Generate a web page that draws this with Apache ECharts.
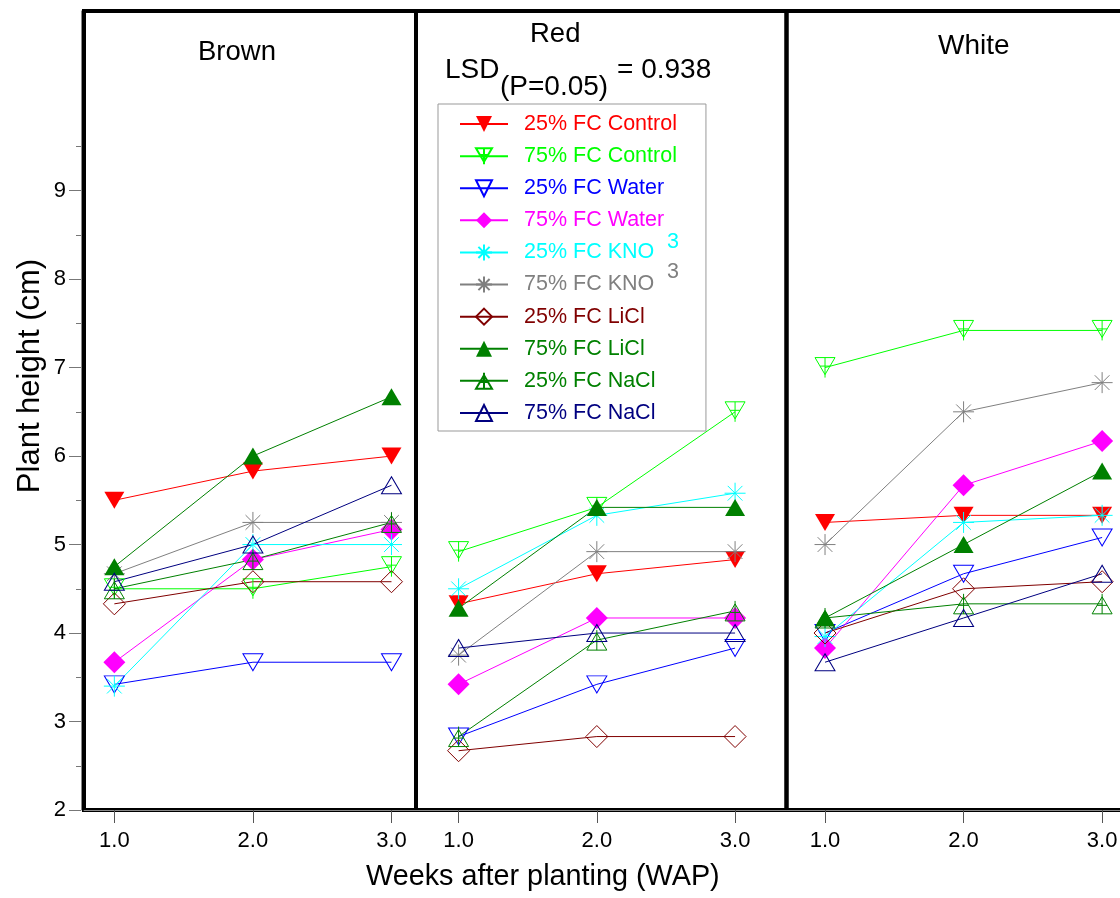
<!DOCTYPE html>
<html>
<head>
<meta charset="utf-8">
<script src="https://cdn.jsdelivr.net/npm/echarts@6/dist/echarts.min.js"></script>
<style>
html,body{margin:0;padding:0;background:#fff;}
#chart{width:1120px;height:898px;}
</style>
</head>
<body>
<div id="chart"></div>
<script>
// ---- data ----
const weeks = [1, 2, 3];
const weekLabels = ['1.0', '2.0', '3.0'];
const yTickValues = [2, 3, 4, 5, 6, 7, 8, 9];
const yMinorTickValues = [2.5, 3.5, 4.5, 5.5, 6.5, 7.5, 8.5, 9.5];
const panels = ['Brown', 'Red', 'White'];
const treatments = ['25% FC Control', '75% FC Control', '25% FC Water', '75% FC Water',
  '25% FC KNO3', '75% FC KNO3', '25% FC LiCl', '75% FC LiCl', '25% FC NaCl', '75% FC NaCl'];
const brown = [
  [5.50, 5.83, 6.00],
  [4.50, 4.50, 4.75],
  [3.42, 3.67, 3.67],
  [3.67, 4.83, 5.17],
  [3.40, 5.00, 5.00],
  [4.67, 5.25, 5.25],
  [4.33, 4.58, 4.58],
  [4.75, 6.00, 6.67],
  [4.50, 4.83, 5.25],
  [4.58, 5.00, 5.67]
];
const red = [
  [4.33, 4.67, 4.83],
  [4.92, 5.42, 6.50],
  [2.83, 3.42, 3.83],
  [3.42, 4.17, 4.17],
  [4.50, 5.33, 5.58],
  [3.75, 4.92, 4.92],
  [2.67, 2.83, 2.83],
  [4.28, 5.42, 5.42],
  [2.83, 3.92, 4.25],
  [3.83, 4.00, 4.00]
];
const white = [
  [5.25, 5.33, 5.33],
  [7.00, 7.42, 7.42],
  [4.00, 4.67, 5.08],
  [3.83, 5.67, 6.17],
  [3.96, 5.25, 5.33],
  [5.00, 6.50, 6.83],
  [4.00, 4.50, 4.58],
  [4.17, 5.00, 5.83],
  [4.17, 4.33, 4.33],
  [3.67, 4.17, 4.67]
];
const panelData = [brown, red, white];

// ---- styles ----
const colors = ['#ff0000', '#00ff00', '#0000ff', '#ff00ff', '#00ffff', '#808080', '#800000', '#008000', '#008000', '#000080'];
const textColors = ['#ff0000', '#00ff00', '#0000ff', '#ff00ff', '#00ffff', '#808080', '#800000', '#008000', '#008000', '#000080'];
const P_DOWN = 'path://M0,0L20,0L10,17Z';
const P_DOWN_X = 'path://M0,0L20,0L10,17Z M10,0L10,20 M5,8.5L15,8.5';
const P_UP = 'path://M10,0L20,17L0,17Z';
const P_UP_X = 'path://M10,3L20,20L0,20Z M10,0L10,20 M5,11.5L15,11.5';
const P_STAR = 'path://M0,10L20,10M10,0L10,20M3,3L17,17M17,3L3,17';
const symbols = [
  {s: P_DOWN, size: [20, 17], fill: true},
  {s: P_DOWN_X, size: [20, 20], fill: false},
  {s: P_DOWN, size: [20, 17], fill: false},
  {s: 'diamond', size: [22, 22], fill: true},
  {s: P_STAR, size: [21, 21], fill: false},
  {s: P_STAR, size: [21, 21], fill: false},
  {s: 'diamond', size: [22, 22], fill: false},
  {s: P_UP, size: [20, 17], fill: true},
  {s: P_UP_X, size: [20, 20], fill: false},
  {s: P_UP, size: [20, 17], fill: false}
];

const FONT = 'Liberation Sans, Arial, sans-serif';
const Y_MIN = 2, Y_MAX = 11.03;
const gridDefs = [
  {left: 84, width: 332, min: 0.781, max: 3.177},
  {left: 416, width: 370.5, min: 0.692, max: 3.372},
  {left: 786.5, width: 340, min: 0.722, max: 3.176}
];

const grids = gridDefs.map(g => ({
  left: g.left, width: g.width, top: 11, height: 799,
  outerBoundsMode: 'none', containLabel: false,
  show: true, borderColor: '#000', borderWidth: 4, backgroundColor: 'transparent'
}));

const xAxes = gridDefs.map((g, i) => ({
  type: 'value', gridIndex: i, min: g.min, max: g.max,
  axisLine: {show: true, onZero: false, lineStyle: {color: '#888', width: 1}},
  axisTick: {show: true, customValues: weeks, length: 13, lineStyle: {color: '#555'}},
  axisLabel: {show: true, customValues: weeks, margin: 20, fontSize: 22, fontFamily: FONT, color: '#000',
    formatter: v => weekLabels[weeks.indexOf(v)]},
  splitLine: {show: false}
}));

const yAxes = [];
gridDefs.forEach((g, i) => {
  yAxes.push({
    type: 'value', gridIndex: i, min: Y_MIN, max: Y_MAX, position: 'left', offset: i === 0 ? 3 : 0,
    axisLine: {show: i === 0, lineStyle: {color: '#888', width: 1}},
    axisTick: {show: i === 0, customValues: yTickValues, length: 12, lineStyle: {color: '#777'}},
    axisLabel: {show: i === 0, customValues: yTickValues, margin: 15, fontSize: 22, fontFamily: FONT, color: '#000'},
    splitLine: {show: false}
  });
});
// minor ticks axis on first grid
yAxes.push({
  type: 'value', gridIndex: 0, min: Y_MIN, max: Y_MAX, position: 'left', offset: 3,
  axisLine: {show: false},
  axisTick: {show: true, customValues: yMinorTickValues, length: 5, lineStyle: {color: '#777'}},
  axisLabel: {show: false},
  splitLine: {show: false}
});

const series = [];
panelData.forEach((rows, p) => {
  rows.forEach((vals, t) => {
    const sym = symbols[t];
    series.push({
      name: treatments[t],
      type: 'line',
      xAxisIndex: p, yAxisIndex: p,
      data: weeks.map((w, k) => [w, vals[k]]),
      symbol: sym.s,
      symbolSize: sym.size,
      symbolKeepAspect: false,
      showAllSymbol: true,
      lineStyle: {color: colors[t], width: 1},
      itemStyle: sym.fill
        ? {color: colors[t], borderWidth: 0}
        : {color: 'rgba(0,0,0,0)', borderColor: colors[t], borderWidth: 1},
      emphasis: {disabled: true},
      animation: false,
      clip: false,
      z: 3
    });
  });
});

// KNO3: the subscript "3" is drawn as a raised separate text, as in the original
const legendFormatter = name => (name.endsWith('KNO3') ? name.slice(0, -1) : name);

const option = {
  animation: false,
  backgroundColor: '#fff',
  grid: grids,
  xAxis: xAxes,
  yAxis: yAxes,
  legend: {
    orient: 'vertical',
    left: 438, top: 104,
    padding: [4, 29, 2, 21],
    itemGap: 0,
    itemWidth: 48,
    itemHeight: 20,
    borderColor: '#999', borderWidth: 1,
    backgroundColor: '#fff',
    selectedMode: false,
    formatter: legendFormatter,
    textStyle: {fontSize: 21.5, fontFamily: FONT, lineHeight: 32.1, padding: [0, 0, 0, 11]},
    data: treatments.map((n, i) => ({name: n, textStyle: {color: textColors[i]}}))
  },
  graphic: [
    {type: 'text', left: 198, top: 38, style: {text: 'Brown', fontSize: 27.5, fontFamily: FONT, fill: '#000'}},
    {type: 'text', left: 530, top: 20, style: {text: 'Red', fontSize: 27.5, fontFamily: FONT, fill: '#000'}},
    {type: 'text', left: 445, top: 56, style: {text: 'LSD', fontSize: 28, fontFamily: FONT, fill: '#000'}},
    {type: 'text', left: 500, top: 73, style: {text: '(P=0.05)', fontSize: 28, fontFamily: FONT, fill: '#000'}},
    {type: 'text', left: 617, top: 56, style: {text: '= 0.938', fontSize: 28, fontFamily: FONT, fill: '#000'}},
    {type: 'text', left: 938, top: 32, style: {text: 'White', fontSize: 28, fontFamily: FONT, fill: '#000'}},
    {type: 'text', x: 667, y: 242, z: 100, style: {text: '3', fontSize: 21.5, fontFamily: FONT, fill: textColors[4], verticalAlign: 'middle'}},
    {type: 'text', x: 667, y: 272, z: 100, style: {text: '3', fontSize: 21.5, fontFamily: FONT, fill: textColors[5], verticalAlign: 'middle'}},
    {type: 'text', left: 366, top: 863, style: {text: 'Weeks after planting (WAP)', fontSize: 28.8, fontFamily: FONT, fill: '#000'}},
    {type: 'text', x: 30, y: 376, rotation: Math.PI / 2,
      style: {text: 'Plant height (cm)', fontSize: 31, fontFamily: FONT, fill: '#000', align: 'center', verticalAlign: 'middle'}}
  ],
  series: series
};

const chart = echarts.init(document.getElementById('chart'), null, {renderer: 'canvas'});
chart.setOption(option);
</script>
</body>
</html>
